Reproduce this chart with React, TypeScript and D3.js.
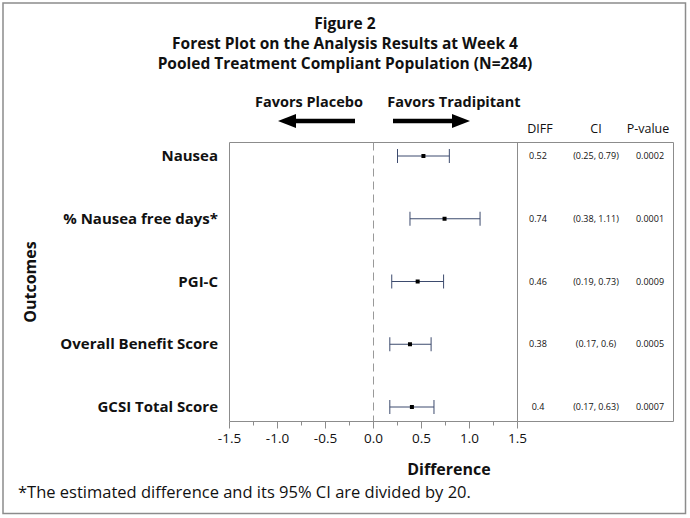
import React from "react";
import * as d3 from "d3";

const outcomes = ["Nausea", "% Nausea free days*", "PGI-C", "Overall Benefit Score", "GCSI Total Score"];
const diffs = [0.52, 0.74, 0.46, 0.38, 0.4];
const ciLow = [0.25, 0.38, 0.19, 0.17, 0.17];
const ciHigh = [0.79, 1.11, 0.73, 0.6, 0.63];
const diffLabels = ["0.52", "0.74", "0.46", "0.38", "0.4"];
const ciLabels = ["(0.25, 0.79)", "(0.38, 1.11)", "(0.19, 0.73)", "(0.17, 0.6)", "(0.17, 0.63)"];
const pLabels = ["0.0002", "0.0001", "0.0009", "0.0005", "0.0007"];
const majorTicks = [-1.5, -1.0, -0.5, 0.0, 0.5, 1.0, 1.5];
const minorTicks = [-1.25, -0.75, -0.25, 0.25, 0.75, 1.25];
const titleLines = ["Figure 2", "Forest Plot on the Analysis Results at Week 4", "Pooled Treatment Compliant Population (N=284)"];

const FONT = "'Open Sans', 'Noto Sans', sans-serif";

export default function App() {
  const W = 690, H = 518;
  const left = 229.5, right = 517.5, top = 142.5, bottom = 421.5;
  const tableRight = 673.5;
  const x = d3.scaleLinear().domain([-1.5, 1.5]).range([left, right]);
  const y = d3.scalePoint<string>().domain(outcomes).range([156, 407]);
  const barColor = "#3d4b6e";
  const frame = "#8c8c8c";

  return (
    <div style={{ position: "absolute", left: 0, top: 0 }}>
      <svg width={W} height={H} style={{ display: "block", fontFamily: FONT }}>
        <rect x={0} y={0} width={W} height={H} fill="#fff" />
        <rect x={3} y={3} width={682.5} height={510.5} fill="none" stroke={frame} strokeWidth={1.5} />
        {titleLines.map((t, i) => (
          <text key={i} x={345} y={29 + i * 20} textAnchor="middle" fontSize={15.5} fontWeight="bold" fill="#111">{t}</text>
        ))}
        <text x={309} y={107} textAnchor="middle" fontSize={14.5} fontWeight="bold" fill="#111">Favors Placebo</text>
        <text x={454} y={107} textAnchor="middle" fontSize={14.5} fontWeight="bold" fill="#111">Favors Tradipitant</text>
        {/* arrows */}
        <line x1={292} x2={355} y1={121} y2={121} stroke="#000" strokeWidth={4.5} />
        <path d="M278,121 L296,114 L296,128 Z" fill="#000" />
        <line x1={393} x2={456} y1={121} y2={121} stroke="#000" strokeWidth={4.5} />
        <path d="M470,121 L452,114 L452,128 Z" fill="#000" />

        {/* table headers */}
        <text x={540} y={133} textAnchor="middle" fontSize={12.5} fill="#111">DIFF</text>
        <text x={596} y={133} textAnchor="middle" fontSize={12.5} fill="#111">CI</text>
        <text x={648} y={133} textAnchor="middle" fontSize={12.5} fill="#111">P-value</text>

        {/* plot frame */}
        <line x1={left} x2={left} y1={top} y2={bottom} stroke={frame} />
        <line x1={left} x2={tableRight} y1={top} y2={top} stroke={frame} />
        <line x1={right} x2={right} y1={top} y2={bottom} stroke={frame} />
        <line x1={tableRight} x2={tableRight} y1={top} y2={bottom} stroke={frame} />
        <line x1={right} x2={tableRight} y1={bottom} y2={bottom} stroke={frame} />
        <line x1={left} x2={right} y1={bottom} y2={bottom} stroke={frame} />

        {/* reference line */}
        <line x1={x(0)} x2={x(0)} y1={top} y2={bottom} stroke="#999" strokeDasharray="8,5" />

        {/* ticks */}
        {majorTicks.map((t) => (
          <g key={t}>
            <line x1={x(t)} x2={x(t)} y1={bottom} y2={bottom + 7} stroke={frame} />
            <text x={x(t)} y={443} textAnchor="middle" fontSize={13.5} fill="#111">{t.toFixed(1)}</text>
          </g>
        ))}
        {minorTicks.map((t) => (
          <line key={t} x1={x(t)} x2={x(t)} y1={bottom} y2={bottom + 4} stroke={frame} />
        ))}

        {/* category labels */}
        {outcomes.map((o) => (
          <text key={o} x={218} y={(y(o) as number) + 5} textAnchor="end" fontSize={15} fontWeight="bold" fill="#111">{o}</text>
        ))}

        {/* error bars */}
        {outcomes.map((o, i) => {
          const yy = y(o) as number;
          return (
            <g key={o}>
              <line x1={x(ciLow[i])} x2={x(ciHigh[i])} y1={yy} y2={yy} stroke={barColor} strokeWidth={1} />
              <line x1={x(ciLow[i])} x2={x(ciLow[i])} y1={yy - 7} y2={yy + 7} stroke={barColor} strokeWidth={1} />
              <line x1={x(ciHigh[i])} x2={x(ciHigh[i])} y1={yy - 7} y2={yy + 7} stroke={barColor} strokeWidth={1} />
              <rect x={x(diffs[i]) - 2} y={yy - 2} width={4} height={4} fill="#000" />
            </g>
          );
        })}

        {/* table values */}
        {outcomes.map((o, i) => {
          const yy = (y(o) as number) + 3;
          return (
            <g key={o} fontSize={9} fill="#111">
              <text x={538} y={yy} textAnchor="middle">{diffLabels[i]}</text>
              <text x={596} y={yy} textAnchor="middle">{ciLabels[i]}</text>
              <text x={650} y={yy} textAnchor="middle">{pLabels[i]}</text>
            </g>
          );
        })}

        <text x={449} y={475} textAnchor="middle" fontSize={16} fontWeight="bold" fill="#111">Difference</text>
        <text transform={`translate(36,282) rotate(-90)`} textAnchor="middle" fontSize={16} fontWeight="bold" fill="#111">Outcomes</text>
        <text x={18} y={498} fontSize={16.5} fill="#111">*The estimated difference and its 95% CI are divided by 20.</text>
      </svg>
    </div>
  );
}
